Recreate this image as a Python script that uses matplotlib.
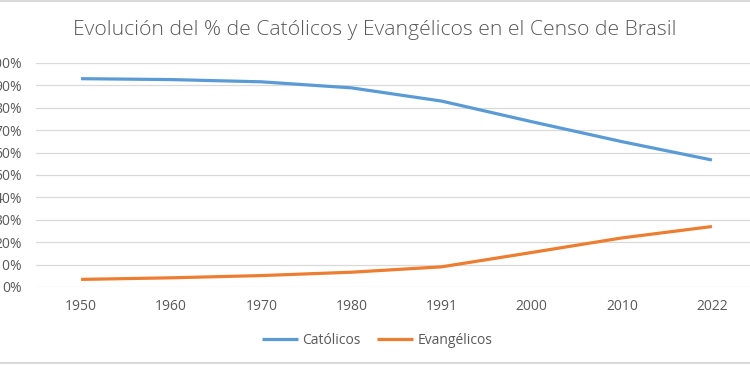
import matplotlib.pyplot as plt
from matplotlib.ticker import PercentFormatter

plt.rcParams['font.family'] = ['Open Sans', 'DejaVu Sans']

anios = ["1950", "1960", "1970", "1980", "1991", "2000", "2010", "2022"]
catolicos = [93.0, 92.6, 91.6, 88.9, 83.0, 73.8, 64.9, 56.7]
evangelicos = [3.4, 4.1, 5.1, 6.6, 9.0, 15.4, 21.9, 27.0]

gris = "#595959"

fig = plt.figure(figsize=(7.5, 3.65), dpi=100)
ax = fig.add_axes([36 / 750, 78 / 365, 721 / 750, 224 / 365])

x = range(len(anios))
ax.plot(x, catolicos, color="#5B9BD5", lw=2.3, label="Católicos",
        solid_capstyle="butt")
ax.plot(x, evangelicos, color="#ED7D31", lw=2.3, label="Evangélicos",
        solid_capstyle="butt")

ax.set_xlim(-0.5, len(anios) - 0.5)
ax.set_ylim(0, 100)
ax.set_yticks(range(0, 101, 10))
ax.yaxis.set_major_formatter(PercentFormatter(decimals=0))
ax.set_xticks(list(x))
ax.set_xticklabels(anios)
ax.grid(axis="y", color="#D9D9D9", lw=0.9)
ax.set_axisbelow(True)
for s in ax.spines.values():
    s.set_visible(False)
ax.tick_params(length=0, colors=gris, labelsize=10)
ax.tick_params(axis="y", pad=10)
ax.tick_params(axis="x", pad=9)

fig.text(0.5, 1 - 30 / 365, "Evolución del % de Católicos y Evangélicos en el Censo de Brasil",
         ha="center", va="center", fontsize=15.2, color=gris, fontweight="light")

fig.legend(loc="center", bbox_to_anchor=(377 / 750, 1 - 340 / 365), ncol=2,
           frameon=False, fontsize=10, labelcolor=gris, handlelength=2.6,
           handletextpad=0.3, columnspacing=1.2)

# bordes del recuadro
fig.add_artist(plt.Line2D([0, 1], [1 - 1 / 365, 1 - 1 / 365], color="#D9D9D9", lw=1.5))
fig.add_artist(plt.Line2D([0, 1], [2 / 365, 2 / 365], color="#D9D9D9", lw=1.5))

fig.savefig("out.png", dpi=100)
